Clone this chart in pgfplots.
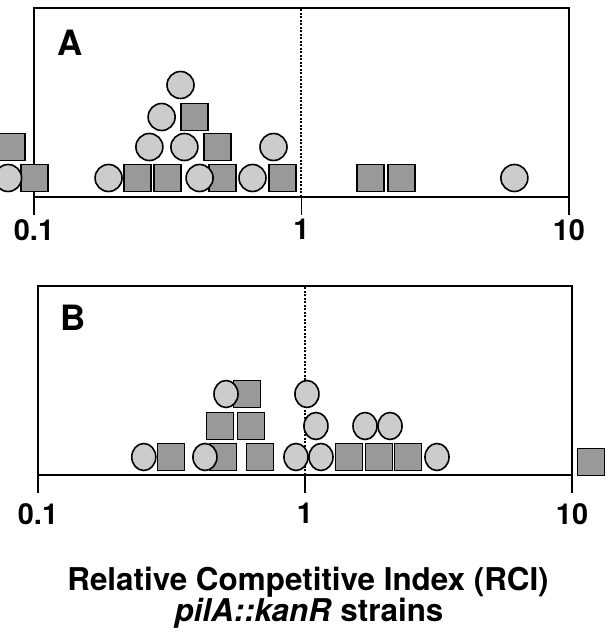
\documentclass[border=0pt]{standalone}
\usepackage{pgfplots}
\pgfplotsset{compat=1.18}
\usepackage{fontspec}
\setmainfont{TeX Gyre Heros}

\definecolor{circfill}{gray}{0.80}
\definecolor{sqfill}{gray}{0.60}

\begin{document}
\begin{tikzpicture}
\useasboundingbox (0,0) rectangle (611bp,638bp);

% panel A
\begin{axis}[at={(34bp,441bp)}, anchor=south west,
    xmode=log, scale only axis, width=535bp, height=189bp,
    xmin=0.1, xmax=10, ymin=0, ymax=189,
    clip=false, axis line style={line width=1.8bp},
    xtick={0.1,1,10}, xticklabels={0.1,1,10},
    xminorticks=false, ytick=\empty,
    tick align=outside, xtick pos=left,
    major tick length=18bp,
    every tick/.style={black, line width=1.8bp},
    xticklabel style={font=\fontsize{29}{29}\selectfont\bfseries, inner sep=0pt, anchor=north, yshift=-4bp}]
  \addplot[black, line width=2bp, dash pattern=on 2bp off 1.5bp] coordinates {(1,0) (1,189)};
  \addplot[only marks, mark=square*, mark size=13.5bp,
    mark options={fill=sqfill, draw=black, line width=1.6bp}] coordinates {
    (0.1005,19) (0.244,19) (0.315,19) (0.507,19) (0.849,19) (1.81,19) (2.36,19)
    (0.0824,50) (0.485,50)
    (0.398,80)
  };
  \addplot[only marks, mark=*, mark size=13.5bp,
    mark options={fill=circfill, draw=black, line width=1.6bp}] coordinates {
    (0.080,19) (0.190,19) (0.416,19) (0.656,19) (6.25,19)
    (0.270,50) (0.365,50) (0.786,50)
    (0.300,80)
    (0.353,112)
  };
  \node[anchor=north west, inner sep=0pt, font=\fontsize{35}{35}\selectfont\bfseries,
    xshift=23bp, yshift=-22bp] at (rel axis cs:0,1) {A};
\end{axis}

% panel B
\begin{axis}[at={(38bp,163bp)}, anchor=south west,
    xmode=log, scale only axis, width=534bp, height=189bp,
    xmin=0.1, xmax=10, ymin=0, ymax=189,
    clip=false, axis line style={line width=1.8bp},
    xtick={0.1,1,10}, xticklabels={0.1,1,10},
    xminorticks=false, ytick=\empty,
    tick align=outside, xtick pos=left,
    major tick length=18bp,
    every tick/.style={black, line width=1.8bp},
    xticklabel style={font=\fontsize{29}{29}\selectfont\bfseries, inner sep=0pt, anchor=north, yshift=-10bp}]
  \addplot[only marks, mark=square*, mark size=13.5bp,
    mark options={fill=sqfill, draw=black, line width=1.6bp}] coordinates {
    (0.315,18) (0.493,18) (0.678,18) (1.462,18) (1.893,18) (2.431,18) (11.78,13)
    (0.480,49) (0.628,49)
    (0.607,81)
  };
  \addplot[only marks, mark=*, mark size=13.5bp,
    mark options={fill=circfill, draw=black, line width=1.6bp, xscale=0.89}] coordinates {
    (0.249,18) (0.422,18) (0.925,18) (1.148,18) (3.122,18)
    (1.099,49) (1.678,49) (2.082,49)
    (0.506,81) (1.017,81)
  };
  \addplot[black, line width=2bp, dash pattern=on 2bp off 1.5bp] coordinates {(1,0) (1,189)};
  \node[anchor=north west, inner sep=0pt, font=\fontsize{35}{35}\selectfont\bfseries,
    xshift=22bp, yshift=-19bp] at (rel axis cs:0,1) {B};
\end{axis}

\node[anchor=base, font=\fontsize{31.5}{31.5}\selectfont\bfseries] at (308bp,47bp)
  {Relative Competitive Index (RCI)};
\node[anchor=base, font=\fontsize{31.5}{31.5}\selectfont\bfseries] at (309bp,17bp)
  {\textit{pilA::kanR} strains};
\end{tikzpicture}
\end{document}
